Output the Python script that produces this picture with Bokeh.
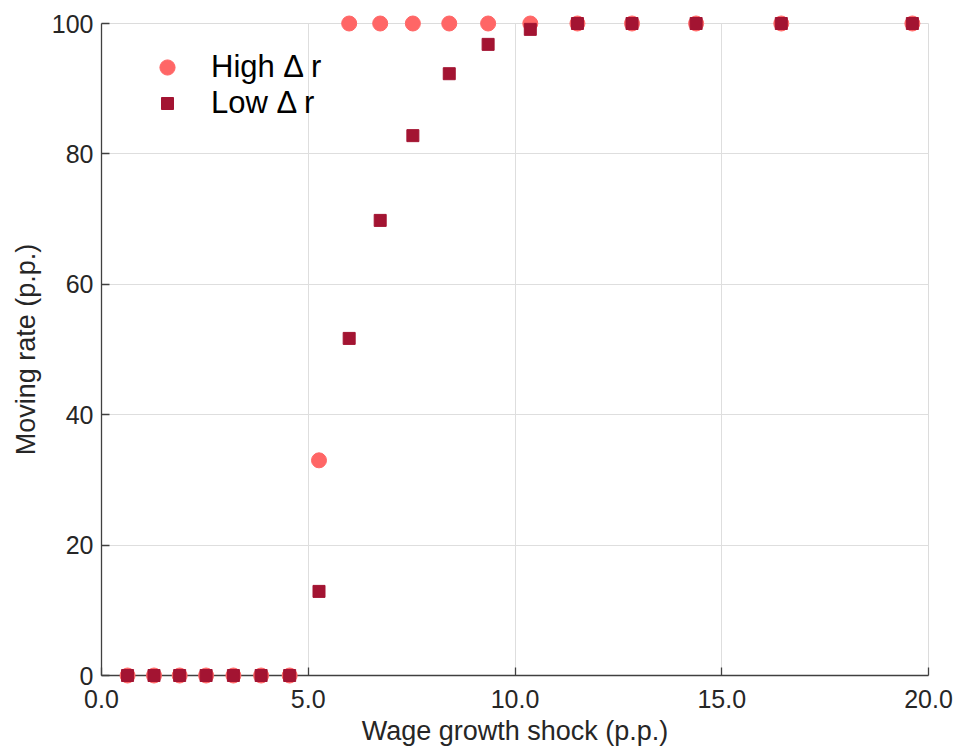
from bokeh.plotting import figure
from bokeh.models import Legend, PrintfTickFormatter, Range1d
from bokeh.embed import file_html
from bokeh.resources import INLINE

# ---- data ----
shock = [0.63, 1.27, 1.89, 2.53, 3.19, 3.86, 4.55, 5.26, 5.99, 6.74,
         7.53, 8.41, 9.35, 10.37, 11.51, 12.83, 14.38, 16.44, 19.61]
high_dr = [0, 0, 0, 0, 0, 0, 0, 33.0, 100, 100,
           100, 100, 100, 100, 100, 100, 100, 100, 100]
low_dr = [0, 0, 0, 0, 0, 0, 0, 12.9, 51.7, 69.8,
          82.8, 92.3, 96.8, 99.1, 100, 100, 100, 100, 100]
x_ticks = [0, 5, 10, 15, 20]
y_ticks = [0, 20, 40, 60, 80, 100]
series_names = ["High \u0394 r", "Low \u0394 r"]

FONT = "Liberation Sans"
HIGH_COLOR = "#FF6666"
LOW_COLOR = "#A31432"

p = figure(width=955, height=753, output_backend="svg", toolbar_location=None,
           x_range=Range1d(0, 20), y_range=Range1d(0, 100),
           min_border_left=101, min_border_right=27, min_border_top=23, min_border_bottom=78)

r_high = p.scatter(shock, high_dr, marker="circle", size=15, color=HIGH_COLOR, level="overlay")
r_low = p.scatter(shock, low_dr, marker="square", size=12, color=LOW_COLOR, level="overlay")

p.xaxis.ticker = x_ticks
p.yaxis.ticker = y_ticks
p.xaxis.formatter = PrintfTickFormatter(format="%.1f")
p.xaxis.axis_label = "Wage growth shock (p.p.)"
p.yaxis.axis_label = "Moving rate (p.p.)"

for ax in (p.xaxis[0], p.yaxis[0]):
    ax.axis_line_color = "#404040"
    ax.axis_line_width = 1.3
    ax.major_tick_line_color = "#404040"
    ax.major_tick_line_width = 1.3
    ax.major_tick_in = 8
    ax.major_tick_out = 0
    ax.minor_tick_line_color = None
    ax.major_label_text_font = FONT
    ax.major_label_text_font_size = "25px"
    ax.major_label_text_color = "#262626"
    ax.axis_label_text_font = FONT
    ax.axis_label_text_font_size = "27px"
    ax.axis_label_text_font_style = "normal"
    ax.axis_label_text_color = "#262626"

p.xaxis.major_label_standoff = 14
p.yaxis.major_label_standoff = 8
p.xaxis.axis_label_standoff = 5
p.yaxis.axis_label_standoff = 8

p.xgrid.ticker = x_ticks
p.ygrid.ticker = y_ticks
p.grid.grid_line_color = "#dedede"
p.grid.grid_line_width = 1
p.outline_line_color = "#dcdcdc"
p.outline_line_width = 1

leg_common = dict(padding=0, margin=0, spacing=0, border_line_alpha=0,
                  background_fill_alpha=0, label_text_font=FONT,
                  label_text_font_size="31px", label_text_color="#000000",
                  glyph_width=40, label_standoff=24)
leg1 = Legend(items=[(series_names[0], [r_high])], location=(46, 589),
              glyph_height=38, label_height=38, **leg_common)
leg2 = Legend(items=[(series_names[1], [r_low])], location=(46, 554),
              glyph_height=30, label_height=30, **leg_common)
p.add_layout(leg1, "center")
p.add_layout(leg2, "center")

open("out.html", "w").write(file_html(p, INLINE))
